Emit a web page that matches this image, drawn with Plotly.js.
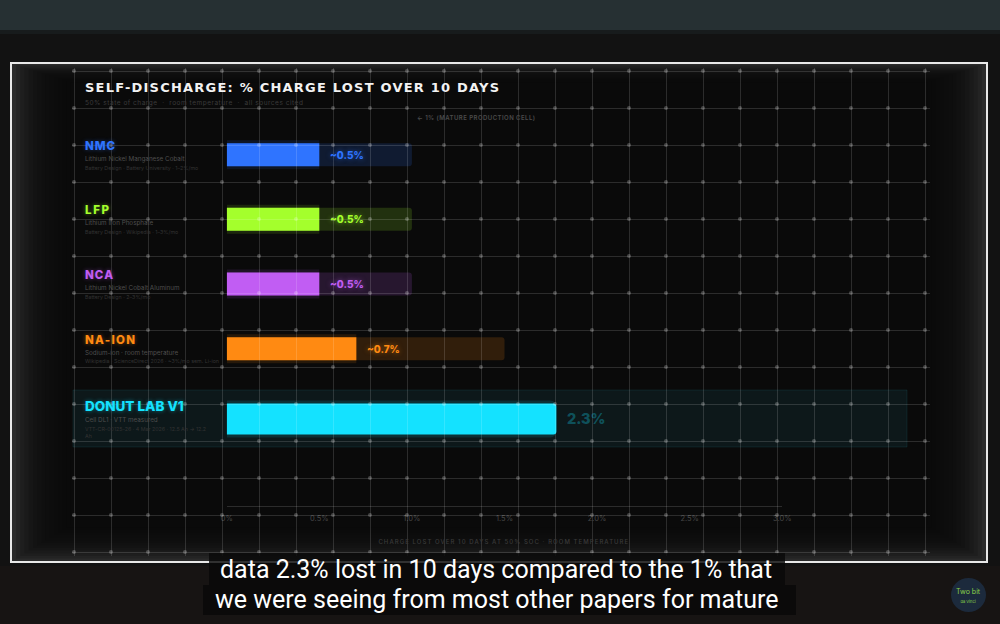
<!DOCTYPE html>
<html>
<head>
<meta charset="utf-8">
<script src="https://cdn.plot.ly/plotly-3.0.1.min.js"></script>
<style>
html,body{margin:0;padding:0;background:#121212;}
#chart{width:1000px;height:624px;}
</style>
</head>
<body>
<div id="chart"></div>
<script>
// ---------------- DATA ----------------
const categories = ['NMC', 'LFP', 'NCA', 'NA-ION', 'DONUT LAB V1'];
const chemistryNames = ['Lithium Nickel Manganese Cobalt', 'Lithium Iron Phosphate', 'Lithium Nickel Cobalt Aluminum', 'Sodium-ion · room temperature', 'Cell DL1 · VTT measured'];
const sourceNotes = ['Battery Design · Battery University · 1–2%/mo', 'Battery Design · Wikipedia · 1–3%/mo', 'Battery Design · 2–3%/mo', 'Wikipedia · ScienceDirect 2026 · ~3%/mo sem. Li-ion', 'VTT-CR-00125-26 · 4 Mar 2026 · 12.5 Ah → 12.2<br>Ah'];
const lossDrawn = [0.5, 0.5, 0.5, 0.7, 1.78];          // bar length as drawn in the frame (% lost)
const valueLabels = ['~0.5%', '~0.5%', '~0.5%', '~0.7%', '2.3%'];
const trackEnd = [1.0, 1.0, 1.0, 1.5, null];            // faint background track
const xTickVals = [0, 0.5, 1.0, 1.5, 2.0, 2.5, 3.0];
const xTickText = ['0%', '0.5%', '1.0%', '1.5%', '2.0%', '2.5%', '3.0%'];
const referenceLevel = 1.0;

// ---------------- STYLE ----------------
const rowColors = ['#2f74ff', '#a4ff2c', '#c15df3', '#ff8a12', '#14e2ff'];
const rgba = (hex, a) => {
  const n = parseInt(hex.slice(1), 16);
  return `rgba(${(n >> 16) & 255},${(n >> 8) & 255},${n & 255},${a})`;
};
const W = 1000, H = 624;
const px = x => x / W;
const py = y => 1 - y / H;

const row0 = 154.7, rowStep = 64.67, axisBottom = 506;
const yTop = -row0 / rowStep, yBottom = (axisBottom - row0) / rowStep;
const barPx = [23, 23, 23, 23, 31];
const rowShiftPx = [0, 0, 0, 0, 5.6];
const barW = barPx.map(p => p / rowStep);
const barOff = barPx.map((p, i) => -p / rowStep / 2 + rowShiftPx[i] / rowStep);
const glowW = barPx.map(p => (p + 6) / rowStep);
const glowOff = barPx.map((p, i) => -(p + 6) / rowStep / 2 + rowShiftPx[i] / rowStep);

const FONT = 'Inter, "DejaVu Sans", sans-serif';

// ---------------- TRACES ----------------
const traces = [];
traces.push({
  type: 'bar', orientation: 'h', y: categories, x: trackEnd,
  width: barW, offset: barOff,
  marker: {color: rowColors.map(c => rgba(c, 0.16)), cornerradius: 3, line: {width: 0}},
  hoverinfo: 'skip', xaxis: 'x', yaxis: 'y'
});
traces.push({
  type: 'bar', orientation: 'h', y: categories, x: lossDrawn,
  width: glowW, offset: glowOff,
  marker: {color: rowColors.map(c => rgba(c, 0.12)), cornerradius: 6, line: {width: 0}},
  hoverinfo: 'skip', xaxis: 'x', yaxis: 'y'
});
traces.push({
  type: 'bar', orientation: 'h', y: categories, x: lossDrawn,
  width: barW, offset: barOff,
  marker: {color: rowColors, cornerradius: 3, line: {width: 0}},
  hoverinfo: 'skip', xaxis: 'x', yaxis: 'y'
});

// decorative background grid dots (on the grid intersections of the grid axes)
const gridStep = 37, gridX0 = 74, gridX1 = 926, gridY0 = 71, gridY1 = 552;
const dx = [], dy = [];
for (let gx = gridX0; gx <= gridX1; gx += gridStep) {
  for (let gy = gridY0; gy <= gridY1; gy += gridStep) { dx.push(gx); dy.push(gy); }
}
traces.push({
  type: 'scatter', mode: 'markers', x: dx, y: dy, xaxis: 'x2', yaxis: 'y2',
  marker: {size: 4, color: 'rgba(255,255,255,0.24)'}, hoverinfo: 'skip'
});

// ---------------- SHAPES ----------------
const shapes = [];
// top strip
shapes.push({type: 'rect', xref: 'paper', yref: 'paper', x0: 0, x1: 1, y0: py(30), y1: 1, fillcolor: '#263033', line: {width: 0}, layer: 'below'});
shapes.push({type: 'rect', xref: 'paper', yref: 'paper', x0: 0, x1: 1, y0: py(34), y1: py(30), fillcolor: '#171b1c', line: {width: 0}, layer: 'below'});
// bottom band
shapes.push({type: 'rect', xref: 'paper', yref: 'paper', x0: 0, x1: 1, y0: 0, y1: py(566), fillcolor: '#171413', line: {width: 0}, layer: 'below'});
// frame interior with soft vignette
shapes.push({type: 'rect', xref: 'paper', yref: 'paper', x0: px(12), x1: px(986), y0: py(561), y1: py(64), fillcolor: '#2a2a2a', line: {width: 0}, layer: 'below'});
for (let k = 1; k <= 14; k++) {
  const ix = k * 4.2, iyT = k * 1.3, iyB = k * 2.6;
  shapes.push({type: 'rect', xref: 'paper', yref: 'paper', x0: px(12 + ix), x1: px(986 - ix), y0: py(561 - iyB), y1: py(64 + iyT), fillcolor: 'rgba(12,12,12,0.2)', line: {width: 0}, layer: 'below'});
}
// donut highlight panel
shapes.push({type: 'rect', xref: 'paper', yref: 'paper', x0: px(73), x1: px(907), y0: py(447), y1: py(390), fillcolor: 'rgba(30,100,112,0.16)', line: {width: 1, color: 'rgba(40,200,230,0.10)'}, layer: 'below'});
// frame border
shapes.push({type: 'rect', xref: 'paper', yref: 'paper', x0: px(11), x1: px(987), y0: py(562), y1: py(63), fillcolor: 'rgba(0,0,0,0)', line: {width: 2, color: '#e8e8e8'}, layer: 'above'});
// caption boxes
shapes.push({type: 'rect', xref: 'paper', yref: 'paper', x0: px(209), x1: px(785), y0: py(585), y1: py(553), fillcolor: 'rgba(8,8,8,0.82)', line: {width: 0}, layer: 'above'});
shapes.push({type: 'rect', xref: 'paper', yref: 'paper', x0: px(203), x1: px(796), y0: py(615), y1: py(585), fillcolor: 'rgba(8,8,8,0.82)', line: {width: 0}, layer: 'above'});
// channel logo
shapes.push({type: 'circle', xref: 'paper', yref: 'paper', x0: px(951), x1: px(986), y0: py(612), y1: py(578), fillcolor: '#1c2a3c', line: {width: 0}, layer: 'above'});

// ---------------- ANNOTATIONS ----------------
const ann = [];
ann.push({text: 'SELF-DISCHARGE: % CHARGE LOST OVER 10 DAYS', xref: 'paper', yref: 'paper', x: px(83), y: py(88), xanchor: 'left', yanchor: 'middle', align: 'left', showarrow: false,
  font: {family: '"DejaVu Sans", sans-serif', size: 13, color: '#f2f2f2', weight: 700}});
ann.push({text: '50% state of charge  ·  room temperature  ·  all sources cited', xref: 'paper', yref: 'paper', x: px(83), y: py(103), xanchor: 'left', yanchor: 'middle', align: 'left', showarrow: false,
  font: {family: FONT, size: 6.5, color: '#3a3a3a'}});
ann.push({text: '← 1% (MATURE PRODUCTION CELL)', xref: 'x', yref: 'paper', x: referenceLevel, xshift: 3, y: py(117), xanchor: 'left', yanchor: 'middle', align: 'left', showarrow: false,
  font: {family: FONT, size: 6, color: '#4a4a4a', weight: 600}});

categories.forEach((c, i) => {
  const col = rowColors[i];
  const isHero = i === 4;
  const base = -rowShiftPx[i];
  ann.push({text: c, xref: 'paper', yref: 'y', x: px(83), y: i, yshift: isHero ? 7.4 : 9, xanchor: 'left', yanchor: 'middle', align: 'left', showarrow: false,
    font: {family: FONT, size: isHero ? 13.5 : 11.5, color: col, weight: 800, shadow: `0 0 4px ${rgba(col, 0.45)}`}});
  ann.push({text: chemistryNames[i], xref: 'paper', yref: 'y', x: px(83), y: i, yshift: isHero ? -6.6 : -4, xanchor: 'left', yanchor: 'middle', align: 'left', showarrow: false,
    font: {family: FONT, size: 6.3, color: '#4e4e4e'}});
  ann.push({text: sourceNotes[i], xref: 'paper', yref: 'y', x: px(83), y: i, yshift: isHero ? -19.6 : -13, xanchor: 'left', yanchor: 'middle', align: 'left', showarrow: false,
    font: {family: FONT, size: 5.3, color: '#333333'}});
  ann.push({text: valueLabels[i], xref: 'x', yref: 'y', x: lossDrawn[i], xshift: 9, y: i, yshift: base, xanchor: 'left', yanchor: 'middle', align: 'left', showarrow: false,
    font: {family: FONT, size: isHero ? 14.5 : 10, color: isHero ? rgba(col, 0.3) : col, weight: 800, shadow: isHero ? 'none' : `0 0 5px ${rgba(col, 0.6)}`}});
});

ann.push({text: 'CHARGE LOST OVER 10 DAYS AT 50% SOC · ROOM TEMPERATURE', xref: 'paper', yref: 'paper', x: px(504.5), y: py(541), xanchor: 'center', yanchor: 'middle', showarrow: false,
  font: {family: FONT, size: 6, color: '#3a3a3a', weight: 500}});

// captions
ann.push({text: 'data 2.3% lost in 10 days compared to the 1% that', xref: 'paper', yref: 'paper', x: px(496), y: py(569), xanchor: 'center', yanchor: 'middle', showarrow: false,
  font: {family: 'Roboto, sans-serif', size: 25, color: '#ffffff'}});
ann.push({text: 'we were seeing from most other papers for mature', xref: 'paper', yref: 'paper', x: px(497), y: py(599), xanchor: 'center', yanchor: 'middle', showarrow: false,
  font: {family: 'Roboto, sans-serif', size: 25, color: '#ffffff'}});
ann.push({text: 'Two bit<br><span style="font-size:4px">da Vinci</span>', xref: 'paper', yref: 'paper', x: px(968.5), y: py(595), xanchor: 'center', yanchor: 'middle', showarrow: false,
  font: {family: FONT, size: 7, color: '#8ad04a'}});

// ---------------- LAYOUT ----------------
const layout = {
  width: W, height: H,
  margin: {l: 0, r: 0, t: 0, b: 0, pad: 0},
  paper_bgcolor: '#121212', plot_bgcolor: 'rgba(0,0,0,0)',
  showlegend: false, barmode: 'overlay', hovermode: false,
  xaxis: {
    domain: [px(226.7), px(782.3)], range: [0, 3], anchor: 'y',
    tickvals: xTickVals, ticktext: xTickText, ticks: '', ticklabelstandoff: 5,
    tickfont: {family: FONT, size: 7.5, color: '#464646'},
    showgrid: false, zeroline: false, showline: true, linecolor: '#2c2c2c', linewidth: 1, fixedrange: true
  },
  yaxis: {
    domain: [py(axisBottom), 1], anchor: 'x', type: 'category',
    categoryorder: 'array', categoryarray: categories,
    range: [yBottom, yTop], showticklabels: false, showgrid: false, zeroline: false, showline: false, fixedrange: true
  },
  xaxis2: {
    domain: [px(72), px(930)], range: [72, 930], anchor: 'y2',
    tick0: 0, dtick: gridStep, showgrid: true, gridcolor: 'rgba(255,255,255,0.14)', gridwidth: 1,
    showticklabels: false, ticks: '', zeroline: false, showline: false, fixedrange: true
  },
  yaxis2: {
    domain: [py(556), py(68)], range: [556, 68], anchor: 'x2',
    tick0: 34, dtick: gridStep, showgrid: true, gridcolor: 'rgba(255,255,255,0.14)', gridwidth: 1,
    showticklabels: false, ticks: '', zeroline: false, showline: false, fixedrange: true
  },
  shapes: shapes,
  annotations: ann
};

// target widths (px) for letter-spaced headings in the reference
const spacedWidths = {
  'SELF-DISCHARGE: % CHARGE LOST OVER 10 DAYS': 414,
  '← 1% (MATURE PRODUCTION CELL)': 118,
  'CHARGE LOST OVER 10 DAYS AT 50% SOC · ROOM TEMPERATURE': 250,
  '50% state of charge  ·  room temperature  ·  all sources cited': 218,
  'NMC': 30, 'LFP': 24, 'NCA': 28, 'NA-ION': 50, 'DONUT LAB V1': 82
};

Plotly.newPlot('chart', traces, layout, {staticPlot: true, displayModeBar: false}).then(gd => {
  gd.querySelectorAll('text.annotation-text').forEach(t => {
    const target = spacedWidths[t.textContent];
    if (!target) return;
    const len = t.getComputedTextLength();
    const n = t.textContent.length;
    const sp = (target - len) / Math.max(1, n - 1);
    if (sp > 0) t.style.letterSpacing = sp.toFixed(2) + 'px';
  });
});
</script>
</body>
</html>
